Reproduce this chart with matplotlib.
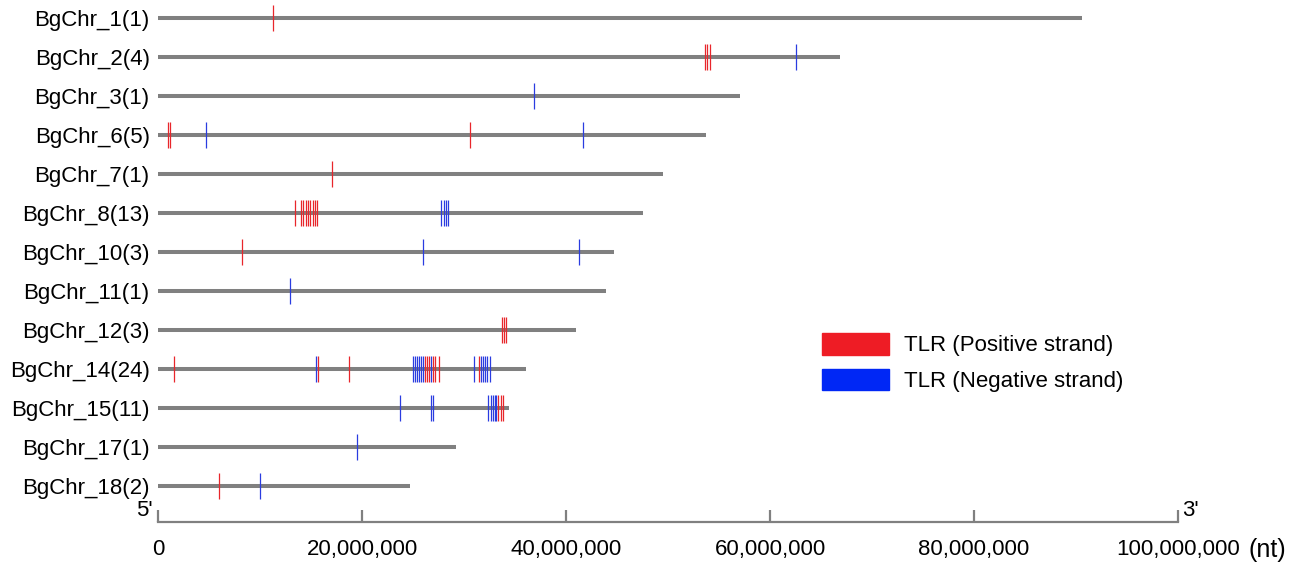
import matplotlib
matplotlib.use("Agg")
import matplotlib.pyplot as plt
import matplotlib.patches as mpatches
from matplotlib.ticker import FuncFormatter

plt.rcParams["font.family"] = ["Liberation Sans", "DejaVu Sans"]

# chromosome names, TLR counts and lengths (Mb)
kromozomlar = ["BgChr_1", "BgChr_2", "BgChr_3", "BgChr_6", "BgChr_7", "BgChr_8", "BgChr_10",
               "BgChr_11", "BgChr_12", "BgChr_14", "BgChr_15", "BgChr_17", "BgChr_18"]
sayilar = [1, 4, 1, 5, 1, 13, 3, 1, 3, 24, 11, 1, 2]
uzunluklar = [90.6, 66.9, 57.1, 53.7, 49.5, 47.5, 44.7, 43.9, 41.0, 36.1, 34.4, 29.2, 24.7]

# TLR positions (Mb) on positive strand
pozitif = [
    [11.3],
    [53.6, 53.8, 54.1],
    [],
    [1.0, 1.2, 30.6],
    [17.1],
    [13.4, 14.0, 14.25, 14.5, 14.7, 14.95, 15.15, 15.4, 15.6],
    [8.2],
    [],
    [33.7, 33.9, 34.1],
    [1.6, 15.7, 18.7, 26.2, 26.4, 26.6, 27.0, 27.2, 27.5, 31.5],
    [33.35, 33.6, 33.85],
    [],
    [6.0],
]
# TLR positions (Mb) on negative strand
negatif = [
    [],
    [62.5],
    [36.9],
    [4.7, 41.7],
    [],
    [27.75, 28.0, 28.2, 28.45],
    [26.0, 41.3],
    [12.9],
    [],
    [15.5, 25.0, 25.2, 25.4, 25.6, 25.8, 26.0, 26.8, 31.0, 31.7, 31.9, 32.1, 32.3, 32.55],
    [23.7, 26.8, 26.95, 32.4, 32.6, 32.8, 33.0, 33.15],
    [19.5],
    [10.0],
]

xtikler = [0, 20e6, 40e6, 60e6, 80e6, 100e6]

W, H = 1303, 567
fig = plt.figure(figsize=(W / 100, H / 100), dpi=100)
ax = fig.add_axes([158 / W, 0, 1020 / W, 1])

satir_px = 39.0
ust = -18 / satir_px
alt = 12 + (H - 486) / satir_px
eksen_y = 12 + 36 / satir_px
ax.set_ylim(alt, ust)
ax.set_xlim(0, 100e6)

gri = "#808080"
kirmizi = "#e8262b"
mavi = "#2a3ce0"
yari = 0.33
fs = 16

for i, ad in enumerate(kromozomlar):
    ax.plot([0, uzunluklar[i] * 1e6], [i, i], color=gri, lw=2.9, solid_capstyle="butt", zorder=1)
    if pozitif[i]:
        ax.vlines([p * 1e6 for p in pozitif[i]], i - yari, i + yari, colors=kirmizi, lw=0.9, zorder=2)
    if negatif[i]:
        ax.vlines([p * 1e6 for p in negatif[i]], i - yari, i + yari, colors=mavi, lw=0.9, zorder=3)

# y labels
ax.set_yticks(range(len(kromozomlar)))
ax.set_yticklabels([f"{k}({s})" for k, s in zip(kromozomlar, sayilar)], fontsize=fs)
ax.tick_params(axis="y", length=0, pad=6)

# bottom scale axis
for s in ["top", "right", "left"]:
    ax.spines[s].set_visible(False)
ax.spines["bottom"].set_position(("data", eksen_y))
ax.spines["bottom"].set_bounds(0, 100e6)
ax.spines["bottom"].set_color(gri)
ax.spines["bottom"].set_linewidth(1.6)
ax.set_xticks(xtikler)
ax.xaxis.set_major_formatter(FuncFormatter(lambda v, p: f"{int(v):,}"))
ax.tick_params(axis="x", direction="in", length=8.5, width=1.6, color=gri, labelsize=fs, pad=12.5)

ax.text(-0.5e6, eksen_y - 0.3, "5'", fontsize=fs, ha="right", va="center")
ax.text(0.4e6 + 100e6, eksen_y - 0.3, "3'", fontsize=fs, ha="left", va="center")
ax.text(106.9e6, eksen_y + 0.72, "(nt)", fontsize=18, ha="left", va="center", clip_on=False)

# legend
el = [mpatches.Patch(color="#ee1c25", label="TLR (Positive strand)"),
      mpatches.Patch(color="#0027f5", label="TLR (Negative strand)")]
fig.legend(handles=el, loc="upper left", bbox_to_anchor=(822 / W, 1 - 333 / H),
           frameon=False, fontsize=fs, handlelength=3.0, handleheight=1.13,
           handletextpad=0.68, labelspacing=0.55, borderpad=0, borderaxespad=0)

plt.savefig("out.png", dpi=100)
